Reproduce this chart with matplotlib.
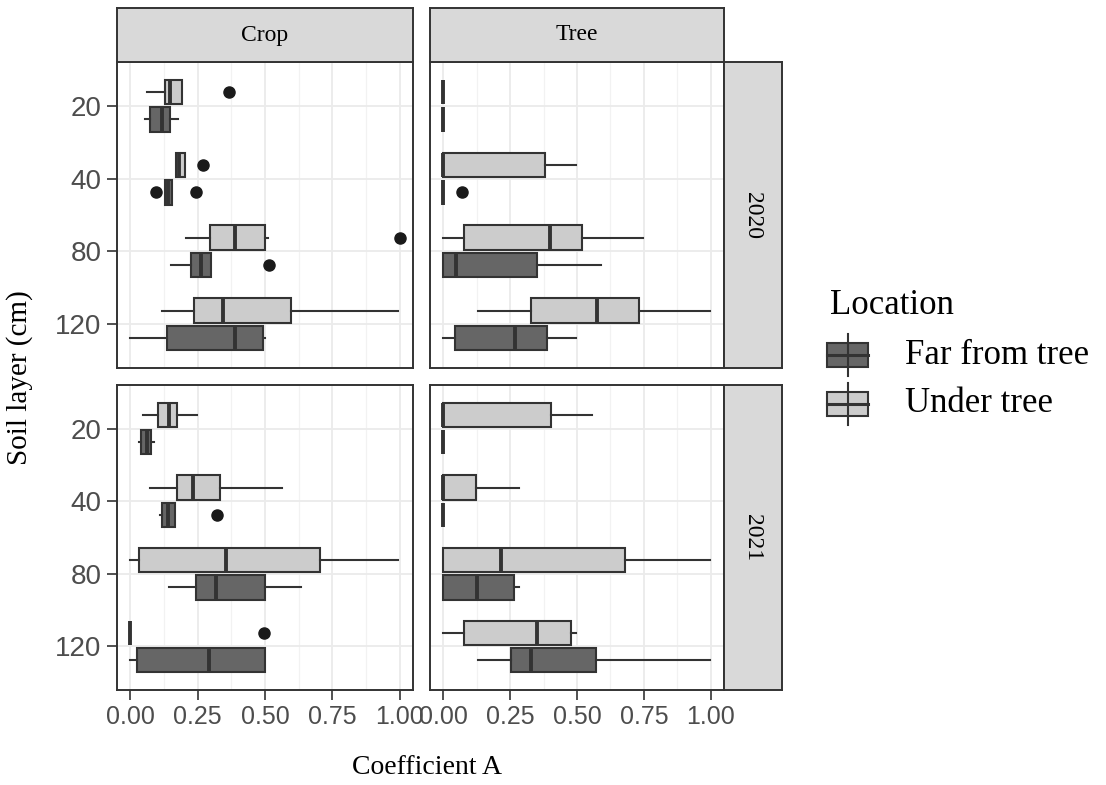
import matplotlib
matplotlib.use('Agg')
import matplotlib.pyplot as plt
from matplotlib.patches import Rectangle
from matplotlib.lines import Line2D

W, H = 1106, 785

depths = ['20', '40', '80', '120']
sites = ['Crop', 'Tree']
years = ['2020', '2021']
locations = ['Far from tree', 'Under tree']

# (lower whisker, Q1, median, Q3, upper whisker) for 20, 40, 80, 120 cm
crop_2020_far = [(0.055, 0.074, 0.117, 0.148, 0.175),
                 (0.127, 0.127, 0.140, 0.156, 0.156),
                 (0.152, 0.224, 0.264, 0.298, 0.298),
                 (0.000, 0.136, 0.389, 0.493, 0.501)]
crop_2020_far_out = [[], [0.094, 0.242], [0.516], []]
crop_2020_under = [(0.062, 0.127, 0.148, 0.192, 0.192),
                   (0.171, 0.171, 0.180, 0.202, 0.202),
                   (0.206, 0.296, 0.389, 0.499, 0.511),
                   (0.117, 0.236, 0.345, 0.597, 0.994)]
crop_2020_under_out = [[0.367], [0.270], [1.000], []]

tree_2020_far = [(0.0, 0.0, 0.0, 0.0, 0.0),
                 (0.0, 0.0, 0.0, 0.0, 0.0),
                 (0.0, 0.0, 0.049, 0.352, 0.591),
                 (0.0, 0.042, 0.267, 0.389, 0.495)]
tree_2020_far_out = [[], [0.069], [], []]
tree_2020_under = [(0.0, 0.0, 0.0, 0.0, 0.0),
                   (0.0, 0.0, 0.0, 0.379, 0.495),
                   (0.0, 0.077, 0.400, 0.520, 0.748),
                   (0.130, 0.327, 0.576, 0.732, 0.998)]
tree_2020_under_out = [[], [], [], []]

crop_2021_far = [(0.030, 0.040, 0.062, 0.077, 0.087),
                 (0.108, 0.118, 0.140, 0.165, 0.165),
                 (0.143, 0.242, 0.318, 0.499, 0.635),
                 (0.000, 0.024, 0.292, 0.499, 0.499)]
crop_2021_far_out = [[], [0.323], [], []]
crop_2021_under = [(0.046, 0.102, 0.142, 0.173, 0.246),
                   (0.074, 0.173, 0.233, 0.333, 0.564),
                   (0.000, 0.031, 0.354, 0.703, 0.994),
                   (0.000, 0.000, 0.000, 0.000, 0.000)]
crop_2021_under_out = [[], [], [], [0.498]]

tree_2021_far = [(0.0, 0.0, 0.0, 0.0, 0.0),
                 (0.0, 0.0, 0.0, 0.0, 0.0),
                 (0.0, 0.0, 0.127, 0.264, 0.283),
                 (0.130, 0.254, 0.329, 0.572, 0.998)]
tree_2021_far_out = [[], [], [], []]
tree_2021_under = [(0.0, 0.0, 0.0, 0.404, 0.555),
                   (0.0, 0.0, 0.0, 0.123, 0.284),
                   (0.0, 0.0, 0.214, 0.678, 0.998),
                   (0.0, 0.077, 0.349, 0.476, 0.495)]
tree_2021_under_out = [[], [], [], []]

x_ticks = [0.0, 0.25, 0.5, 0.75, 1.0]
x_tick_labels = ['0.00', '0.25', '0.50', '0.75', '1.00']

FAR_COLOR = '#666666'
UNDER_COLOR = '#CCCCCC'
EDGE = '#333333'
GRID = '#EBEBEB'
STRIP = '#D9D9D9'
TICK_TEXT = '#4D4D4D'
SERIF = 'Liberation Serif'
SANS = 'Liberation Sans'

panels = {
    ('Crop', '2020'): (crop_2020_far, crop_2020_far_out, crop_2020_under, crop_2020_under_out),
    ('Tree', '2020'): (tree_2020_far, tree_2020_far_out, tree_2020_under, tree_2020_under_out),
    ('Crop', '2021'): (crop_2021_far, crop_2021_far_out, crop_2021_under, crop_2021_under_out),
    ('Tree', '2021'): (tree_2021_far, tree_2021_far_out, tree_2021_under, tree_2021_under_out),
}

# pixel layout of the facets
col_x = {'Crop': (117, 413), 'Tree': (430, 724)}
row_y = {'2020': (62, 368), '2021': (385, 690)}


def px_rect(x0, y0, x1, y1):
    return [x0 / W, 1 - y1 / H, (x1 - x0) / W, (y1 - y0) / H]


def draw_boxes(ax, stats, outs, color, offset):
    bstats = []
    for s, o in zip(stats, outs):
        bstats.append(dict(whislo=s[0], q1=s[1], med=s[2], q3=s[3], whishi=s[4], fliers=o))
    pos = [i + 1 + offset for i in range(len(depths))]
    ax.bxp(bstats, positions=pos, widths=0.3375, orientation='horizontal',
           patch_artist=True, showcaps=False, manage_ticks=False,
           boxprops=dict(facecolor=color, edgecolor=EDGE, linewidth=1.5),
           medianprops=dict(color=EDGE, linewidth=2.8, solid_capstyle='butt'),
           whiskerprops=dict(color=EDGE, linewidth=1.5),
           flierprops=dict(marker='o', markerfacecolor='#1A1A1A',
                           markeredgecolor='#1A1A1A', markersize=8))


fig = plt.figure(figsize=(W / 100, H / 100), dpi=100)

for (site, year), (far, far_out, under, under_out) in panels.items():
    x0, x1 = col_x[site]
    y0, y1 = row_y[year]
    ax = fig.add_axes(px_rect(x0, y0, x1, y1))
    ax.set_axisbelow(True)
    ax.set_xlim(-0.05, 1.05)
    ax.set_ylim(4.6, 0.4)
    ax.set_xticks(x_ticks)
    ax.set_xticks([0.125, 0.375, 0.625, 0.875], minor=True)
    ax.set_yticks(range(1, len(depths) + 1))
    ax.grid(True, which='major', color=GRID, linewidth=1.3)
    ax.grid(True, which='minor', axis='x', color='#F2F2F2', linewidth=0.9)
    draw_boxes(ax, under, under_out, UNDER_COLOR, -0.1875)
    draw_boxes(ax, far, far_out, FAR_COLOR, 0.1875)
    for sp in ax.spines.values():
        sp.set_color(EDGE)
        sp.set_linewidth(1.4)
    ax.tick_params(which='minor', length=0)
    ax.tick_params(which='major', color=EDGE, width=1.2, length=7, pad=4)
    if site == 'Crop':
        ax.set_yticklabels(depths, fontsize=20, color=TICK_TEXT, family=SANS)
    else:
        ax.tick_params(axis='y', length=0, labelleft=False)
    if year == '2021':
        ax.set_xticklabels(x_tick_labels, fontsize=18, color=TICK_TEXT, family=SANS)
    else:
        ax.tick_params(axis='x', length=0, labelbottom=False)

# top strips
for site in sites:
    x0, x1 = col_x[site]
    sax = fig.add_axes(px_rect(x0, 8, x1, 62))
    sax.set_facecolor(STRIP)
    sax.set_xticks([])
    sax.set_yticks([])
    for sp in sax.spines.values():
        sp.set_color(EDGE)
        sp.set_linewidth(1.4)
    sax.text(0.5, 0.5, site, ha='center', va='center', fontsize=17, family=SERIF,
             transform=sax.transAxes)

# right strips
for year in years:
    y0, y1 = row_y[year]
    sax = fig.add_axes(px_rect(724, y0, 782, y1))
    sax.set_facecolor(STRIP)
    sax.set_xticks([])
    sax.set_yticks([])
    for sp in sax.spines.values():
        sp.set_color(EDGE)
        sp.set_linewidth(1.4)
    sax.text(0.5, 0.5, year, ha='center', va='center', fontsize=17, family=SERIF,
             rotation=-90, transform=sax.transAxes)

fig.text(427 / W, 1 - 768 / H, 'Coefficient A', ha='center', va='center',
         fontsize=20, family=SERIF)
fig.text(20 / W, 1 - 378 / H, 'Soil layer (cm)', ha='center', va='center',
         fontsize=21, family=SERIF, rotation=90)

# legend
lax = fig.add_axes([0, 0, 1, 1], facecolor='none')
lax.set_xlim(0, W)
lax.set_ylim(H, 0)
lax.axis('off')
lax.text(830, 305, 'Location', ha='left', va='center', fontsize=25, family=SERIF)
key_y = [355, 404]
key_colors = [FAR_COLOR, UNDER_COLOR]
for label, color, ky in zip(locations, key_colors, key_y):
    lax.add_line(Line2D([847.5, 847.5], [ky - 21, ky + 21], color=EDGE, linewidth=1.5))
    lax.add_patch(Rectangle((827, ky - 12), 41, 24, facecolor=color, edgecolor=EDGE,
                            linewidth=1.5))
    lax.add_line(Line2D([827, 868], [ky, ky], color=EDGE, linewidth=2.2))
    lax.text(905, ky, label, ha='left', va='center', fontsize=25, family=SERIF)

fig.savefig('out.png', dpi=100)
